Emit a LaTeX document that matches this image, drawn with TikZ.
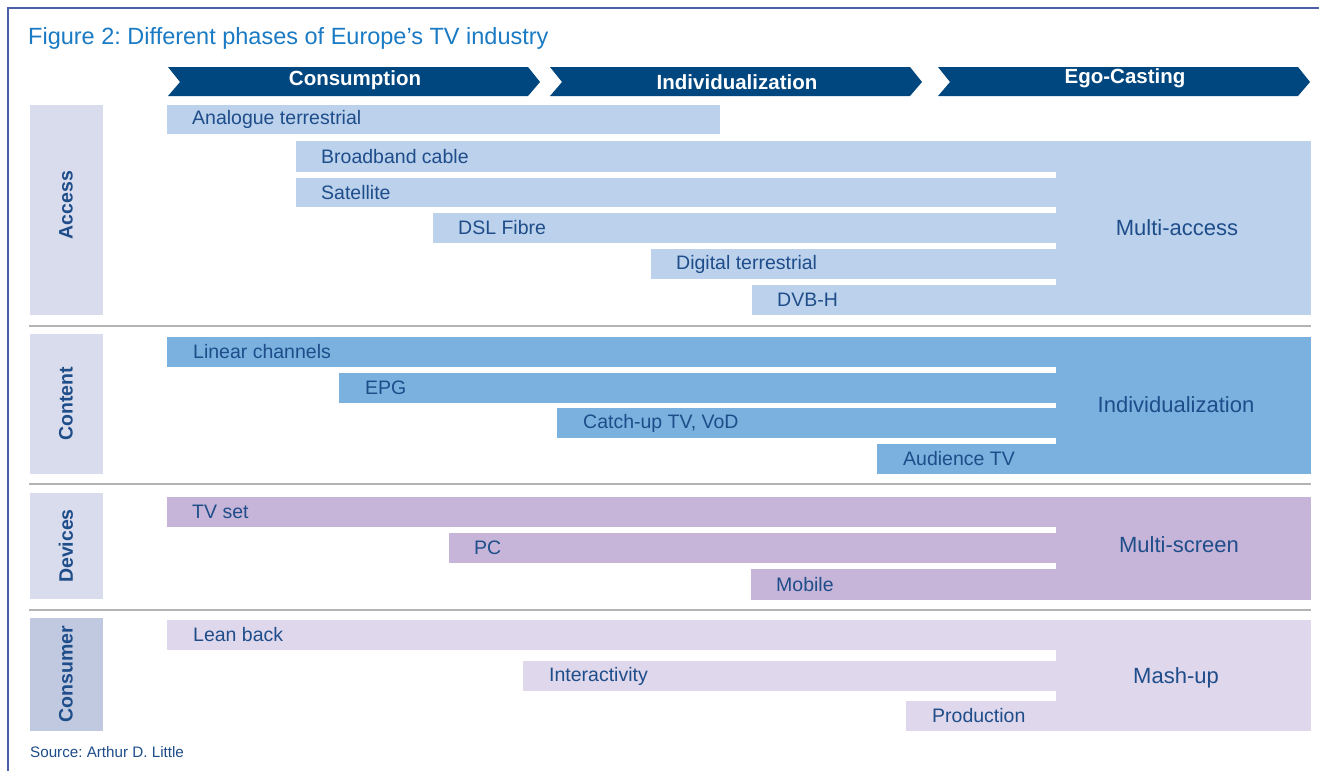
\documentclass[tikz,border=0pt]{standalone}
\usepackage{fontspec}
\setmainfont{Liberation Sans}
\frenchspacing
\definecolor{framecol}{HTML}{4B5EA6}
\definecolor{titleblue}{HTML}{1A7BC4}
\definecolor{phaseblue}{HTML}{00477F}
\definecolor{txtblue}{HTML}{1E4D8A}
\definecolor{accesscol}{HTML}{BBD1EC}
\definecolor{contentcol}{HTML}{7AB1DF}
\definecolor{devicecol}{HTML}{C6B5D8}
\definecolor{consumercol}{HTML}{DFD7EB}
\definecolor{sidecol}{HTML}{D9DCEC}
\definecolor{sidedark}{HTML}{C1C9E1}
\definecolor{sepcol}{HTML}{B4B4B4}
\begin{document}
\begin{tikzpicture}[x=1pt,y=-1pt,
	bartext/.style={anchor=west,inner sep=0pt,text=txtblue,font=\fontsize{19.5}{21}\selectfont},
	blocktext/.style={text=txtblue,font=\fontsize{22}{24}\selectfont},
	sidetext/.style={rotate=90,text=txtblue,font=\bfseries\fontsize{19.5}{22}\selectfont},
	phasetext/.style={text=white,font=\bfseries\fontsize{20.5}{22}\selectfont},
	sepline/.style={sepcol,line width=2}]
	\useasboundingbox (0,0) rectangle (1319,771);
	\fill[white] (0,0) rectangle (1319,771);
	\draw[framecol,line width=1.5] (8,771)--(8,8)--(1319,8);
	\node[anchor=base west,inner sep=0pt,text=titleblue,font=\fontsize{23.5}{26}\selectfont] (title) at (28,44) {Figure 2: Different phases of Europe’s TV industry};
	% phases
	\foreach \a/\b/\ty/\t/\n in {168/540/80/Consumption/cons,550/922/82/Individualization/indiv,938/1310/78/Ego-Casting/ego}{
		\fill[phaseblue] (\a,67)--(\b-12,67)--(\b,82)--(\b-12,96)--(\a,96)--(\a+12,82)--cycle;
		\node[phasetext] (\n) at ({(\a+\b)/2+1},\ty) {\t};
	}
	% side labels
	\fill[sidecol] (30,105) rectangle (103,315);
	\fill[sidecol] (30,334) rectangle (103,474);
	\fill[sidecol] (30,493) rectangle (103,599);
	\fill[sidedark] (30,618) rectangle (103,731);
	\node[sidetext] (access) at (66,205) {Access};
	\node[sidetext] (content) at (66,404) {Content};
	\node[sidetext] (devices) at (66,546) {Devices};
	\node[sidetext] (consumer) at (66,674) {Consumer};
	\draw[sepline] (29,326)--(1311,326) (29,484)--(1311,484) (29,610)--(1311,610);
	% access
	\foreach \x/\e/\ya/\yb/\t/\n in {167/720/105/134/Analogue terrestrial/analogue,296/1056/141/172/Broadband cable/cable,296/1056/178/207/Satellite/sat,433/1056/213/243/DSL Fibre/dsl,651/1056/249/279/Digital terrestrial/digital,752/1056/285/315/DVB-H/dvbh}{
		\fill[accesscol] (\x,\ya) rectangle (\e,\yb);
		\node[bartext] (\n) at (\x+25,{(\ya+\yb)/2}) {\t};
	}
	\fill[accesscol] (1056,141) rectangle (1311,315);
	\node[blocktext] (multiaccess) at (1177,228) {Multi-access};
	% content
	\foreach \x/\ya/\yb/\t/\n in {167/337/367/Linear channels/linear,339/373/403/EPG/epg,557/408/438/{Catch-up TV, VoD}/catchup,877/444/474/Audience TV/audience}{
		\fill[contentcol] (\x,\ya) rectangle (1056,\yb);
		\node[bartext] (\n) at (\x+26,{(\ya+\yb)/2}) {\t};
	}
	\fill[contentcol] (1056,337) rectangle (1311,474);
	\node[blocktext] (individual) at (1176,405) {Individualization};
	% devices
	\foreach \x/\ya/\yb/\t/\n in {167/497/527/TV set/tvset,449/533/563/PC/pc,751/569/600/Mobile/mobile}{
		\fill[devicecol] (\x,\ya) rectangle (1056,\yb);
		\node[bartext] (\n) at (\x+25,{(\ya+\yb)/2}) {\t};
	}
	\fill[devicecol] (1056,497) rectangle (1311,600);
	\node[blocktext] (multiscreen) at (1179,545) {Multi-screen};
	% consumer
	\foreach \x/\ya/\yb/\t/\n in {167/620/650/Lean back/leanback,523/661/691/Interactivity/interact,906/701/731/Production/production}{
		\fill[consumercol] (\x,\ya) rectangle (1056,\yb);
		\node[bartext] (\n) at (\x+26,{(\ya+\yb)/2}) {\t};
	}
	\fill[consumercol] (1056,620) rectangle (1311,731);
	\node[blocktext] (mashup) at (1176,678) {Mash-up};
	\node[anchor=west,inner sep=0pt,text=txtblue,font=\fontsize{15.2}{17}\selectfont] (source) at (30,752) {Source: Arthur D. Little};
\end{tikzpicture}
\end{document}
